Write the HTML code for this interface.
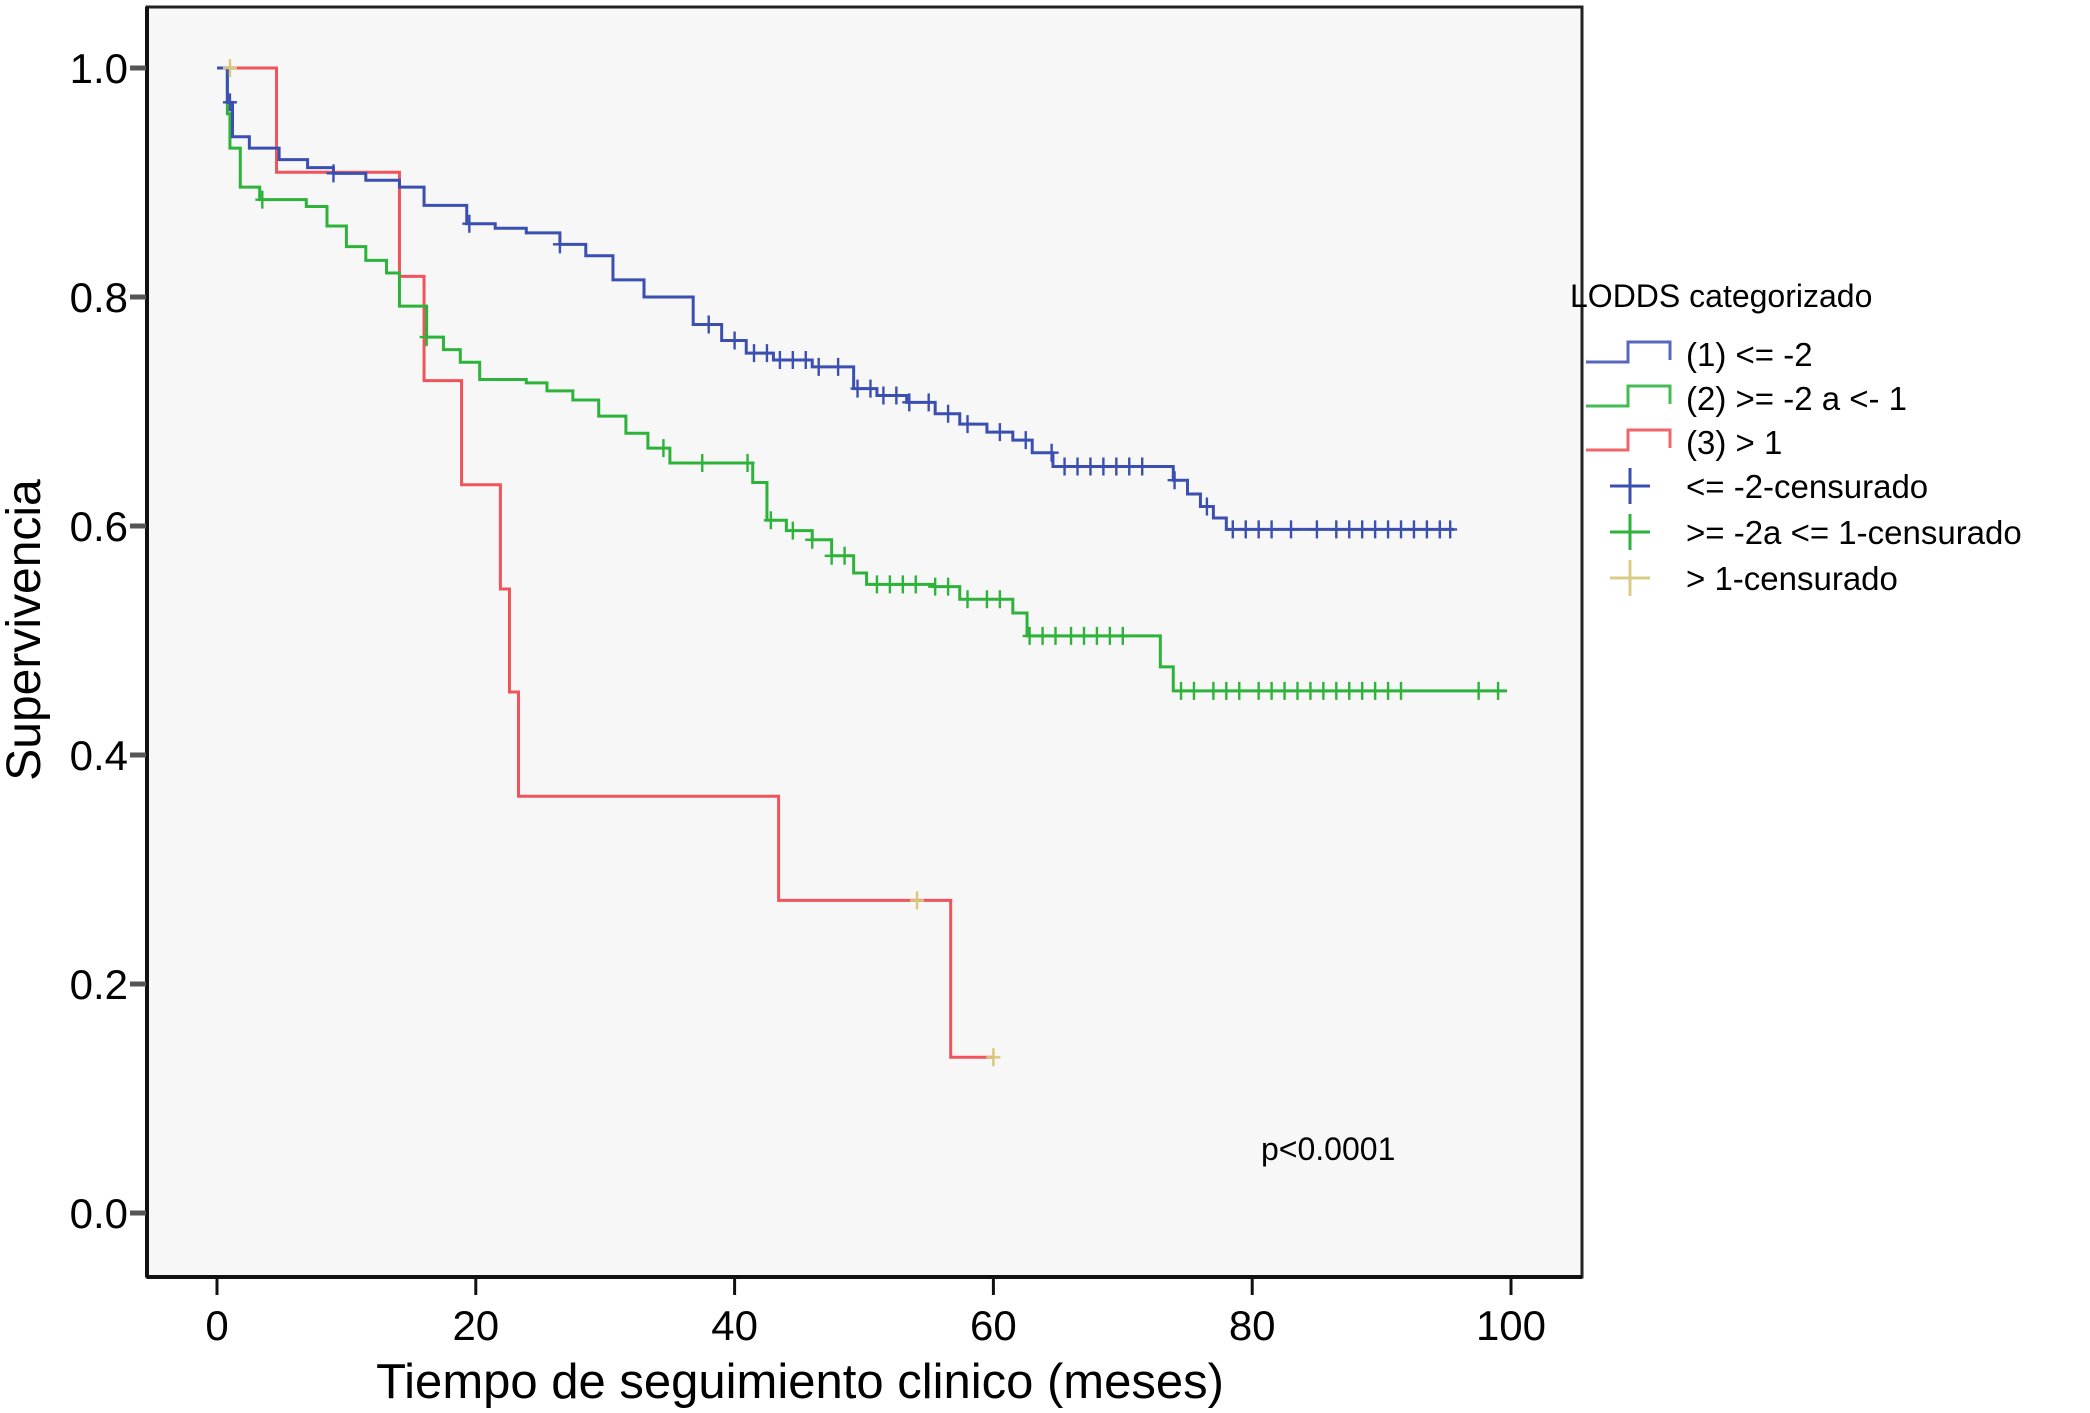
<!DOCTYPE html>
<html><head><meta charset="utf-8">
<style>
html,body{margin:0;padding:0;background:#fff;}
svg{display:block;font-family:"Liberation Sans",Arial,sans-serif;}
</style></head>
<body>
<svg id="chart" width="2090" height="1413" viewBox="0 0 2090 1413" xmlns="http://www.w3.org/2000/svg">
<rect x="147" y="7" width="1435" height="1270" fill="#f7f7f7" stroke="#222" stroke-width="3"/>
<g id="axes"></g>
<g id="series"></g>
<text transform="translate(40,630) rotate(-90)" text-anchor="middle" font-size="48">Supervivencia</text>
<text x="800" y="1398" text-anchor="middle" font-size="49">Tiempo de seguimiento clinico (meses)</text>
<text x="1261" y="1160" font-size="32">p&lt;0.0001</text>
<g>
<text x="1570" y="307" font-size="32">LODDS categorizado</text>
<g><path d="M1586 362 H1628 V342 H1670 V360" fill="none" stroke="#5468bd" stroke-width="3"/><text x="1686" y="366" font-size="33">(1) &lt;= -2</text></g>
<g><path d="M1586 406 H1628 V386 H1670 V404" fill="none" stroke="#45bb55" stroke-width="3"/><text x="1686" y="410" font-size="33">(2) &gt;= -2 a &lt;- 1</text></g>
<g><path d="M1586 450 H1628 V430 H1670 V448" fill="none" stroke="#f0666a" stroke-width="3"/><text x="1686" y="454" font-size="33">(3) &gt; 1</text></g>
<g><path d="M1610 486 H1650 M1630 468 V504" stroke="#3a4fb0" stroke-width="3"/><text x="1686" y="498" font-size="33">&lt;= -2-censurado</text></g>
<g><path d="M1610 532 H1650 M1630 514 V550" stroke="#2db33a" stroke-width="3"/><text x="1686" y="544" font-size="33">&gt;= -2a &lt;= 1-censurado</text></g>
<g><path d="M1610 578 H1650 M1630 560 V596" stroke="#d8cc88" stroke-width="3"/><text x="1686" y="590" font-size="33">&gt; 1-censurado</text></g>
</g>
</svg>
<script>
const xTicks=[0,20,40,60,80,100];
const yTicks=[0.0,0.2,0.4,0.6,0.8,1.0];
const yTickLabels=["0.0","0.2","0.4","0.6","0.8","1.0"];
const blueTimes=[0,0.8,1.2,2.5,4.8,7,9,11.5,14.1,16,19.3,21.5,23.9,26.5,28.5,30.6,33,36.8,39,40.9,43,46,49.2,51,53.3,55.5,57.4,59.5,61.5,63,64.6,71.9,73.9,75,76,77,78,95.6];
const blueSurv=[1,0.97,0.94,0.93,0.92,0.913,0.908,0.902,0.896,0.88,0.864,0.86,0.856,0.846,0.836,0.815,0.8,0.776,0.762,0.751,0.745,0.739,0.72,0.714,0.708,0.698,0.689,0.682,0.675,0.664,0.652,0.652,0.64,0.628,0.617,0.607,0.597,0.597];
const greenTimes=[0,0.8,1.0,1.8,3.3,6.9,8.5,10,11.5,13.1,14.1,16.2,17.5,18.8,20.3,23.9,25.5,27.5,29.5,31.6,33.3,35,41.4,42.5,44,46,47.5,49.2,50.2,55.4,57.4,61.5,62.6,71.9,72.9,73.9,99.7];
const greenSurv=[1,0.96,0.93,0.896,0.885,0.879,0.862,0.844,0.832,0.821,0.792,0.765,0.754,0.743,0.728,0.725,0.718,0.71,0.696,0.681,0.668,0.655,0.638,0.605,0.596,0.588,0.574,0.559,0.549,0.547,0.536,0.524,0.504,0.504,0.477,0.456,0.456];
const redTimes=[0,4.6,14.1,16,18.9,21.9,22.6,23.3,43.4,56.7,60];
const redSurv=[1,0.909,0.818,0.727,0.636,0.545,0.455,0.364,0.273,0.136,0.136];
const blueCensor=[1,9,19.5,26.5,38,40,41.5,42.5,43.5,44.5,45.5,46.5,48,49.5,50.5,51.5,52.5,53.5,55,56.5,58,60.5,62.5,64.5,65.5,66.5,67.5,68.5,69.5,70.5,71.5,74,76.5,78.5,79.5,80.5,81.5,83,85,86.5,87.5,88.5,89.5,90.5,91.5,92.5,93.5,94.5,95.3];
const greenCensor=[3.5,16.2,34.5,37.5,41,42.8,44.5,46,47.5,48.5,51,52,53,54,55.5,56.5,58,59.5,60.5,62.8,63.8,64.8,66,67,68,69,70,74.5,75.5,77,78,79,80.5,81.5,82.5,83.5,84.5,85.5,86.5,87.5,88.5,89.5,90.5,91.5,97.5,99];
const redCensor=[1,54.1,60];

const NS='http://www.w3.org/2000/svg';
const X=v=>217+v*(1511-217)/100;
const Y=v=>1213-v*(1213-68);
function mk(tag,attrs,parent){const e=document.createElementNS(NS,tag);for(const k in attrs)e.setAttribute(k,attrs[k]);parent.appendChild(e);return e;}
const axes=document.getElementById('axes');
const series=document.getElementById('series');
mk('line',{x1:147,y1:1277,x2:1582,y2:1277,stroke:'#111','stroke-width':4},axes);
mk('line',{x1:147,y1:7,x2:147,y2:1277,stroke:'#111','stroke-width':4},axes);
xTicks.forEach(t=>{
  const l=mk('line',{x1:X(t),y1:1279,x2:X(t),y2:1295,stroke:'#111','stroke-width':3},axes);
  
  
  const tx=mk('text',{x:X(t),y:1340,'text-anchor':'middle','font-size':42},axes);
  tx.textContent=String(t);
  
  
});
yTicks.forEach((t,i)=>{
  const l=mk('line',{x1:130,y1:Y(t),x2:146,y2:Y(t),stroke:'#555','stroke-width':5},axes);
  
  
  const tx=mk('text',{x:128,y:Y(t)+15,'text-anchor':'end','font-size':42},axes);
  tx.textContent=yTickLabels[i];
  
  
});
function survAt(times,surv,t){let s=surv[0];for(let i=0;i<times.length;i++){if(times[i]<=t)s=surv[i];}return s;}
function drawCurve(times,surv,color,name){
  let d='M'+X(times[0])+' '+Y(surv[0]);
  for(let i=1;i<times.length;i++){d+=' H'+X(times[i])+' V'+Y(surv[i]);}
  const p=mk('path',{d:d,fill:'none',stroke:color,'stroke-width':3},series);
  
  
}
function drawCensor(ct,times,surv,color,name){
  ct.forEach(t=>{
    const x=X(t),y=Y(survAt(times,surv,t));
    const p=mk('path',{d:`M${x-7} ${y} H${x+7} M${x} ${y-9} V${y+9}`,stroke:color,'stroke-width':2.4},series);
    
    
  });
}
drawCurve(redTimes,redSurv,'#f0545a','curve-group3');
drawCurve(greenTimes,greenSurv,'#2db33a','curve-group2');
drawCurve(blueTimes,blueSurv,'#3a4fb0','curve-group1');
drawCensor(greenCensor,greenTimes,greenSurv,'#2db33a','censor-mark-group2');
drawCensor(blueCensor,blueTimes,blueSurv,'#3a4fb0','censor-mark-group1');
drawCensor(redCensor,redTimes,redSurv,'#d8c878','censor-mark-group3');
</script>
</body></html>
